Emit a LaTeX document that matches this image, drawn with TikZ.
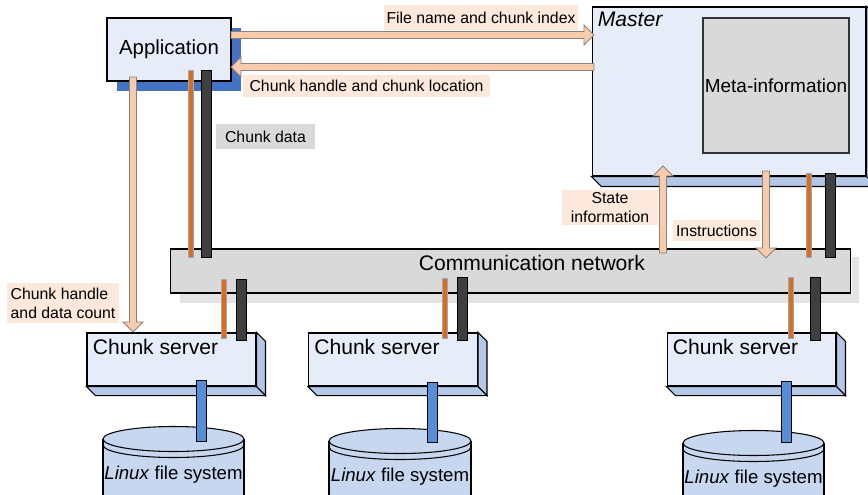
\documentclass[tikz,border=0pt]{standalone}
\usepackage{fontspec}
\setmainfont{Liberation Sans}
\usepackage{tikz}
\usetikzlibrary{calc}

\definecolor{boxfill}{HTML}{E7EDF8}
\definecolor{boxside}{HTML}{B4C7E7}
\definecolor{appshade}{HTML}{4472C4}
\definecolor{metafill}{HTML}{D9D9D9}
\definecolor{netshade}{HTML}{E3E3E3}
\definecolor{peach}{HTML}{F8CBAD}
\definecolor{peachedge}{HTML}{8C8079}
\definecolor{labelbg}{HTML}{FCE9DB}
\definecolor{orangelink}{HTML}{E36C0A}
\definecolor{orangeedge}{HTML}{8EAADB}
\definecolor{darklink}{HTML}{3F3F3F}
\definecolor{disklink}{HTML}{558ED5}
\definecolor{diskfill}{HTML}{C6D7EF}

\tikzset{
  box/.style={draw=black, fill=boxfill, line width=0.6pt, inner sep=0pt},
  side/.style={draw=black, fill=boxside, line width=0.6pt},
  metabox/.style={draw=black!80, fill=metafill, line width=0.6pt, inner sep=0pt},
  tag/.style={fill=labelbg, inner sep=0pt, align=center, font=\fontsize{9}{10.8}\selectfont},
  arrowbody/.style={draw=peachedge, fill=peach, line width=0.5pt},
  orangebar/.style={draw=orangeedge, fill=orangelink, line width=0.4pt},
  darkbar/.style={draw=black, fill=darklink, line width=0.4pt},
  diskbar/.style={fill=disklink},
  disk/.style={draw=black, line width=0.6pt},
  bigtext/.style={inner sep=0pt, font=\fontsize{12}{14}\selectfont},
  disktext/.style={inner sep=0pt, font=\fontsize{10.6}{12}\selectfont},
}

\newcommand{\fatarrow}[2]{%
  \coordinate (fa-base) at ($(#2)!5.7pt!(#1)$);
  \draw[arrowbody] ($(#1)!2pt!90:(#2)$) -- ($(fa-base)!2pt!90:(#2)$) -- ($(fa-base)!5.7pt!90:(#2)$)
    -- (#2) -- ($(fa-base)!5.7pt!-90:(#2)$) -- ($(fa-base)!2pt!-90:(#2)$) -- ($(#1)!2pt!-90:(#2)$) -- cycle;}
\newcommand{\linkbar}[4]{\draw[#1] ($(#2)+(-#4,0)$) rectangle ($(#3)+(#4,0)$);}

\begin{document}
\begin{tikzpicture}[x=0.02cm, y=-0.02cm]
\useasboundingbox (0,0) rectangle (868,494);

\node[metabox, draw=black, minimum width=13.62cm, minimum height=0.88cm] (net) at (510.5,271) {};
\fill[netshade] ($(net.south west)+(10,0.5)$) rectangle ($(net.south east)+(8,9)$);
\fill[netshade] ($(net.north east)+(0.5,9)$) rectangle ($(net.south east)+(8,9)$);
\node[bigtext] (net-title) at (532,263) {Communication network};

\node[box, minimum width=5.48cm, minimum height=3.38cm] (master) at (729,91.5) {};
\draw[side] (master.south west) -- (master.south east) -- ++(10,10) -- ($(master.south west)+(10,10)$) -- cycle;
\draw[side] (master.north east) -- ++(10,10) -- ($(master.south east)+(10,10)$) -- (master.south east) -- cycle;
\node[bigtext, anchor=north west] (master-title) at ($(master.north west)+(6,5)$) {\textit{Master}};
\node[metabox, minimum width=2.92cm, minimum height=2.7cm, font=\fontsize{10.8}{13}\selectfont] (meta) at (776,85.5) {Meta-information};

\fill[appshade] (117,28) rectangle (241,91);
\node[box, minimum width=2.48cm, minimum height=1.26cm, font=\fontsize{11.6}{14}\selectfont] (app) at (169,49.5) {Application};

\node[box, minimum width=3.38cm, minimum height=1.06cm] (cs1) at (171.5,359.5) {};
\draw[side] (cs1.north east) -- ++(9,9) -- ($(cs1.south east)+(9,9)$) -- (cs1.south east) -- cycle;
\draw[side] (cs1.south west) -- (cs1.south east) -- ++(9,9) -- ($(cs1.south west)+(9,9)$) -- cycle;
\node[bigtext, anchor=north west] (cs1-title) at ($(cs1.north west)+(6,6)$) {Chunk server};

\node[box, minimum width=3.38cm, minimum height=1.06cm] (cs2) at (393,359.5) {};
\draw[side] (cs2.north east) -- ++(9,9) -- ($(cs2.south east)+(9,9)$) -- (cs2.south east) -- cycle;
\draw[side] (cs2.south west) -- (cs2.south east) -- ++(9,9) -- ($(cs2.south west)+(9,9)$) -- cycle;
\node[bigtext, anchor=north west] (cs2-title) at ($(cs2.north west)+(6,6)$) {Chunk server};

\node[box, minimum width=3.38cm, minimum height=1.06cm] (cs3) at (751.5,359.5) {};
\draw[side] (cs3.north east) -- ++(9,9) -- ($(cs3.south east)+(9,9)$) -- (cs3.south east) -- cycle;
\draw[side] (cs3.south west) -- (cs3.south east) -- ++(9,9) -- ($(cs3.south west)+(9,9)$) -- cycle;
\node[bigtext, anchor=north west] (cs3-title) at ($(cs3.north west)+(6,6)$) {Chunk server};

\fill[diskfill] (103,439) rectangle (244,520);
\draw[disk] (103,439) -- (103,520) (244,439) -- (244,520);
\draw[disk, fill=diskfill] (173.5,439) ellipse [x radius=70.5, y radius=12.5];
\draw[disk] (103,445) arc [start angle=180, end angle=0, x radius=70.5, y radius=12.5];
\node[disktext] (fs1) at (173.5,475) {\textit{Linux} file system};

\fill[diskfill] (329,441) rectangle (471,520);
\draw[disk] (329,441) -- (329,520) (471,441) -- (471,520);
\draw[disk, fill=diskfill] (400,441) ellipse [x radius=71, y radius=12.5];
\draw[disk] (329,447) arc [start angle=180, end angle=0, x radius=71, y radius=12.5];
\node[disktext] (fs2) at (400,477) {\textit{Linux} file system};

\fill[diskfill] (683,443) rectangle (824,520);
\draw[disk] (683,443) -- (683,520) (824,443) -- (824,520);
\draw[disk, fill=diskfill] (753.5,443) ellipse [x radius=70.5, y radius=12.5];
\draw[disk] (683,449) arc [start angle=180, end angle=0, x radius=70.5, y radius=12.5];
\node[disktext] (fs3) at (753.5,479) {\textit{Linux} file system};

\coordinate (d1-t) at (201.5,380); \coordinate (d1-b) at (201.5,441);
\coordinate (d2-t) at (432,382);   \coordinate (d2-b) at (432,442);
\coordinate (d3-t) at (786,381);   \coordinate (d3-b) at (786,442);
\linkbar{diskbar}{d1-t}{d1-b}{5}
\linkbar{diskbar}{d2-t}{d2-b}{5}
\linkbar{diskbar}{d3-t}{d3-b}{5}

\coordinate (ao-t) at (190.5,70);  \coordinate (ao-b) at (190.5,257);
\coordinate (ad-t) at (206,70);    \coordinate (ad-b) at (206,257);
\coordinate (mo-t) at (808.5,173); \coordinate (mo-b) at (808.5,257);
\coordinate (md-t) at (830,173);   \coordinate (md-b) at (830,257);
\coordinate (c1o-t) at (223.5,279); \coordinate (c1o-b) at (223.5,338);
\coordinate (c1d-t) at (241,279);   \coordinate (c1d-b) at (241,340);
\coordinate (c2o-t) at (444.5,278); \coordinate (c2o-b) at (444.5,338);
\coordinate (c2d-t) at (462,277);   \coordinate (c2d-b) at (462,340);
\coordinate (c3o-t) at (790.5,277); \coordinate (c3o-b) at (790.5,338);
\coordinate (c3d-t) at (815,277);   \coordinate (c3d-b) at (815,340);
\linkbar{orangebar}{ao-t}{ao-b}{2.5}   \linkbar{darkbar}{ad-t}{ad-b}{5}
\linkbar{orangebar}{mo-t}{mo-b}{2.5}   \linkbar{darkbar}{md-t}{md-b}{5}
\linkbar{orangebar}{c1o-t}{c1o-b}{2.5} \linkbar{darkbar}{c1d-t}{c1d-b}{5}
\linkbar{orangebar}{c2o-t}{c2o-b}{2.5} \linkbar{darkbar}{c2d-t}{c2d-b}{5}
\linkbar{orangebar}{c3o-t}{c3o-b}{2.5} \linkbar{darkbar}{c3d-t}{c3d-b}{5}

\coordinate (req-s) at (231,35);  \coordinate (req-e) at (594,35);
\coordinate (rep-s) at (594,67);  \coordinate (rep-e) at (231,67);
\coordinate (st-s) at (663,253);  \coordinate (st-e) at (663,166);
\coordinate (ins-s) at (766,171); \coordinate (ins-e) at (766,258);
\coordinate (cnt-s) at (133,77);  \coordinate (cnt-e) at (133,332);
\fatarrow{req-s}{req-e}
\fatarrow{rep-s}{rep-e}
\fatarrow{st-s}{st-e}
\fatarrow{ins-s}{ins-e}
\fatarrow{cnt-s}{cnt-e}

\node[tag, minimum width=3.88cm, minimum height=0.5cm] (fname) at (481,17.5) {File name and chunk index};
\node[tag, minimum width=4.94cm, minimum height=0.44cm] (loc) at (366.5,86) {Chunk handle and chunk location};
\node[tag, fill=metafill, minimum width=1.98cm, minimum height=0.5cm] (cdata) at (265.5,136.5) {Chunk data};
\node[tag, minimum width=1.92cm, minimum height=0.7cm] (state) at (610,207.5) {State\\information};
\node[tag, minimum width=1.74cm, minimum height=0.42cm] (instr) at (716.5,230.5) {Instructions};
\node[tag, align=left, minimum width=2.24cm, minimum height=0.8cm] (count) at (63,303) {Chunk handle\\and data count};
\end{tikzpicture}
\end{document}
